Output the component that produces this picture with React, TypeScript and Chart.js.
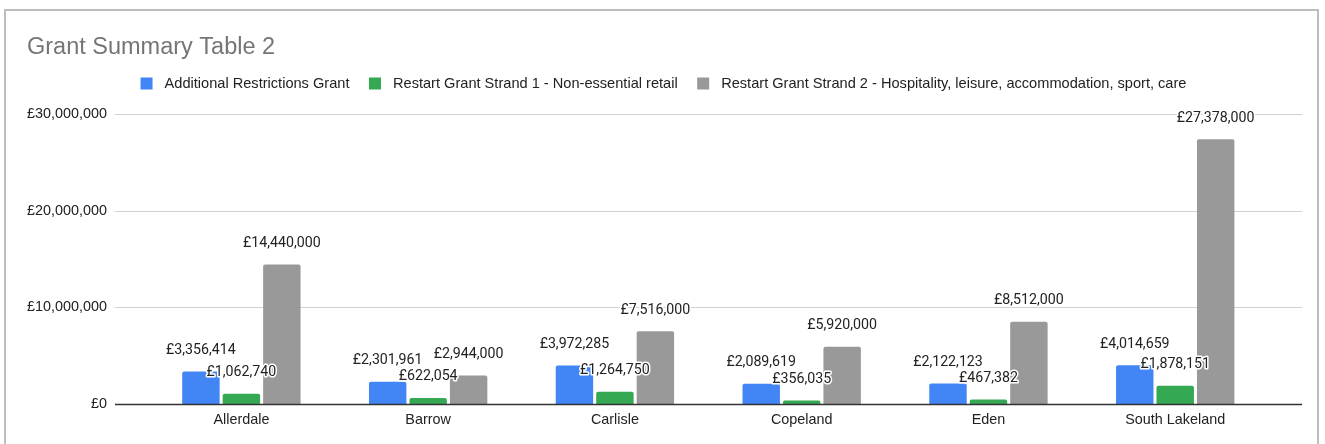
import React, { useEffect, useRef } from 'react';
import { Chart, registerables } from 'chart.js';

Chart.register(...registerables);

const chartTitle = 'Grant Summary Table 2';
const categories = ['Allerdale', 'Barrow', 'Carlisle', 'Copeland', 'Eden', 'South Lakeland'];
const seriesNames = [
  'Additional Restrictions Grant',
  'Restart Grant Strand 1 - Non-essential retail',
  'Restart Grant Strand 2 - Hospitality, leisure, accommodation, sport, care',
];
const additionalRestrictions = [3356414, 2301961, 3972285, 2089619, 2122123, 4014659];
const restartStrand1 = [1062740, 622054, 1264750, 356035, 467382, 1878151];
const restartStrand2 = [14440000, 2944000, 7516000, 5920000, 8512000, 27378000];
const yTickValues = [0, 10000000, 20000000, 30000000];
const seriesColors = ['#4285F4', '#34A853', '#999999'];

const SANS = '"Liberation Sans", Arial, sans-serif';
const LABEL_FONT = 'Roboto, "Liberation Sans", Arial, sans-serif';

const money = (v: number) => '£' + Math.round(v).toLocaleString('en-GB');

const decorPlugin = {
  id: 'decor',
  beforeDraw(chart: any) {
    const { ctx, width, height } = chart;
    ctx.save();
    ctx.fillStyle = '#ffffff';
    ctx.fillRect(0, 0, width, height);
    ctx.strokeStyle = '#bdbdbd';
    ctx.lineWidth = 2;
    ctx.strokeRect(5, 10, 1313, height + 20);

    // title
    ctx.fillStyle = '#757575';
    ctx.font = `23.5px ${SANS}`;
    ctx.textAlign = 'left';
    ctx.textBaseline = 'alphabetic';
    ctx.fillText(chartTitle, 27, 53.5);

    // legend
    ctx.font = `14.6px ${SANS}`;
    const box = 12;
    const boxGap = 12;
    const itemGap = 19.5;
    const datasets = chart.data.datasets;
    const widths = datasets.map((d: any) => ctx.measureText(d.label).width);
    const total = widths.reduce((a: number, w: number) => a + box + boxGap + w, 0) + itemGap * (datasets.length - 1);
    let x = 663.5 - total / 2;
    const ly = 83.5;
    datasets.forEach((d: any, i: number) => {
      ctx.fillStyle = d.backgroundColor;
      ctx.fillRect(x, ly - box / 2, box, box);
      x += box + boxGap;
      ctx.fillStyle = '#222222';
      ctx.textBaseline = 'middle';
      ctx.fillText(d.label, x, ly);
      x += widths[i] + itemGap;
    });
    ctx.restore();
  },
  beforeDatasetsDraw(chart: any) {
    const { ctx, chartArea } = chart;
    const yScale = chart.scales.y;
    const left = chartArea.left - 33;
    const right = chartArea.right + 33.5;
    ctx.save();
    ctx.strokeStyle = '#d0d0d0';
    ctx.lineWidth = 1;
    yScale.ticks.forEach((t: any) => {
      if (t.value === 0) return;
      const y = Math.round(yScale.getPixelForValue(t.value)) + 0.5;
      ctx.beginPath();
      ctx.moveTo(left, y);
      ctx.lineTo(right, y);
      ctx.stroke();
    });
    ctx.restore();
  },
  afterDatasetsDraw(chart: any) {
    const { ctx, chartArea } = chart;
    const yScale = chart.scales.y;
    const left = chartArea.left - 33;
    const right = chartArea.right + 33.5;
    ctx.save();
    // zero axis line
    const y0 = Math.round(yScale.getPixelForValue(0)) + 0.5;
    ctx.strokeStyle = '#333333';
    ctx.lineWidth = 1.5;
    ctx.beginPath();
    ctx.moveTo(left, y0);
    ctx.lineTo(right, y0);
    ctx.stroke();

    // data labels
    ctx.font = `14.2px ${LABEL_FONT}`;
    ctx.textAlign = 'center';
    ctx.textBaseline = 'alphabetic';
    ctx.lineJoin = 'round';
    chart.data.datasets.forEach((ds: any, di: number) => {
      const meta = chart.getDatasetMeta(di);
      meta.data.forEach((bar: any, i: number) => {
        const text = money(ds.data[i]);
        const bx = bar.x;
        const by = bar.y - 17.5;
        ctx.strokeStyle = '#ffffff';
        ctx.lineWidth = 3;
        ctx.strokeText(text, bx, by);
        ctx.fillStyle = '#222222';
        ctx.fillText(text, bx, by);
      });
    });
    ctx.restore();
  },
};

export default function App() {
  const canvasRef = useRef<HTMLCanvasElement | null>(null);

  useEffect(() => {
    if (!canvasRef.current) return;
    const chart = new Chart(canvasRef.current, {
      type: 'bar',
      data: {
        labels: categories,
        datasets: [
          { label: seriesNames[0], data: additionalRestrictions, backgroundColor: seriesColors[0] },
          { label: seriesNames[1], data: restartStrand1, backgroundColor: seriesColors[1] },
          { label: seriesNames[2], data: restartStrand2, backgroundColor: seriesColors[2] },
        ],
      },
      options: {
        animation: false,
        responsive: false,
        maintainAspectRatio: false,
        devicePixelRatio: 1,
        layout: { padding: { top: 114, right: 56.4, bottom: 0, left: 0 } },
        datasets: {
          bar: {
            categoryPercentage: 0.65,
            barPercentage: 0.925,
            borderRadius: { topLeft: 2, topRight: 2, bottomLeft: 0, bottomRight: 0 },
            borderSkipped: false,
          },
        },
        plugins: {
          legend: { display: false },
          title: { display: false },
          tooltip: { enabled: false },
        },
        scales: {
          x: {
            grid: { display: false, drawTicks: false },
            border: { display: false },
            ticks: {
              color: '#222222',
              font: { family: SANS, size: 14.4 },
              padding: 7,
            },
            afterFit: (scale: any) => {
              scale.height = 40;
            },
          },
          y: {
            min: 0,
            max: 30000000,
            afterBuildTicks: (scale: any) => {
              scale.ticks = yTickValues.map((v) => ({ value: v }));
            },
            grid: { display: false, drawTicks: false },
            border: { display: false },
            ticks: {
              color: '#222222',
              font: { family: SANS, size: 14.4 },
              padding: 41,
              callback: (v: any) => money(Number(v)),
            },
            afterFit: (scale: any) => {
              scale.width = 148;
              scale.paddingTop = 9;
              scale.paddingBottom = 9;
            },
          },
        },
      },
      plugins: [decorPlugin],
    });
    return () => chart.destroy();
  }, []);

  return (
    <div style={{ position: 'absolute', left: 0, top: 0, width: 1325, height: 444 }}>
      <canvas ref={canvasRef} width={1325} height={444} style={{ display: 'block', width: 1325, height: 444 }} />
    </div>
  );
}
